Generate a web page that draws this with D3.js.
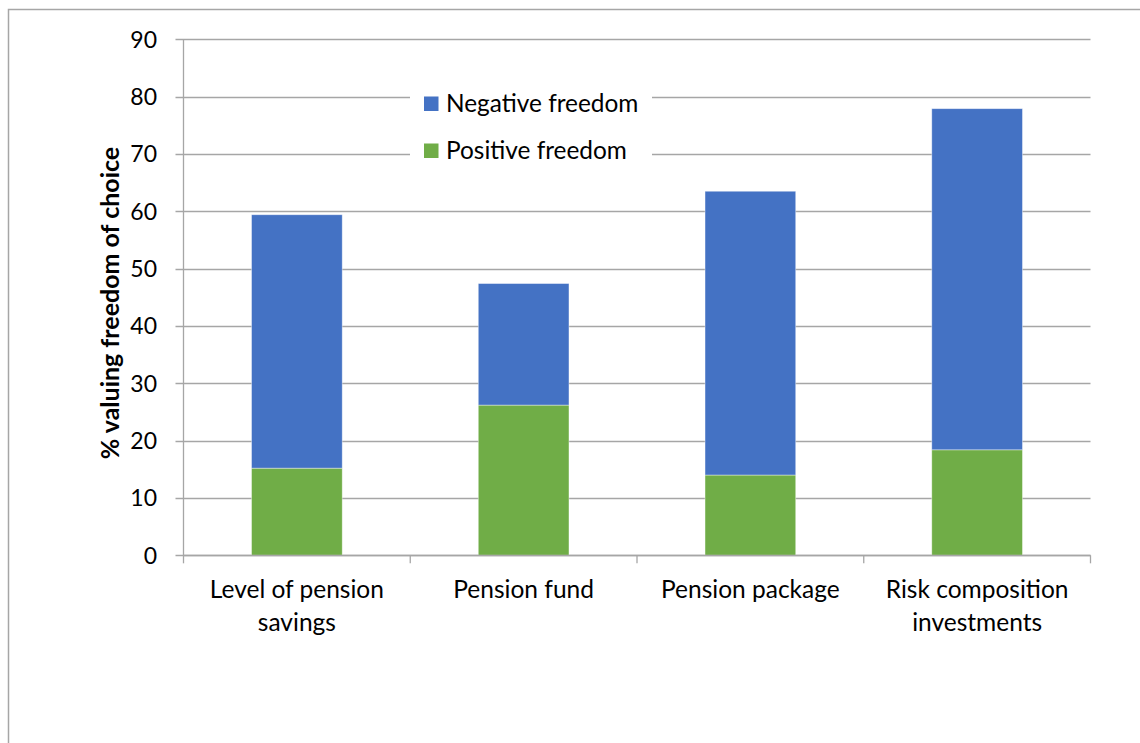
<!DOCTYPE html>
<html>
<head>
<meta charset="utf-8">
<script src="https://cdn.jsdelivr.net/npm/d3@7"></script>
<style>
  html, body { margin: 0; padding: 0; background: #fff; }
  svg { display: block; font-family: Lato, "Open Sans", sans-serif; }
</style>
</head>
<body>
<svg id="chart" width="1140" height="743"></svg>
<script>
const categories = [["Level of pension", "savings"], ["Pension fund"], ["Pension package"], ["Risk composition", "investments"]];
const categoryKeys = ["Level of pension savings", "Pension fund", "Pension package", "Risk composition investments"];
const positiveFreedom = [15.2, 26.2, 14.0, 18.4];
const negativeFreedom = [44.2, 21.2, 49.5, 59.5];
const seriesNames = ["Positive freedom", "Negative freedom"];
const seriesColors = ["#70AD47", "#4472C4"];
const yTicks = [0, 10, 20, 30, 40, 50, 60, 70, 80, 90];
const yLabel = "% valuing freedom of choice";

(function () {
const svg = d3.select("#chart");

// outer frame (extends beyond viewport on right/bottom)
svg.append("rect").attr("x", 8.5).attr("y", 9.5).attr("width", 1200).attr("height", 800)
  .attr("fill", "#fff").attr("stroke", "#a6a6a6").attr("stroke-width", 1.5);

const pL = 183.5, pR = 1090.5, pT = 39.3, pB = 555.3;
const x = d3.scaleBand().domain(categoryKeys).range([pL, pR]).paddingInner(0.6).paddingOuter(0.3);
const y = d3.scaleLinear().domain([0, 90]).range([pB, pT]);

// gridlines with outward ticks
svg.append("g").selectAll("line").data(yTicks).join("line")
  .attr("x1", pL - 8).attr("x2", pR)
  .attr("y1", d => Math.round(y(d)) + 0.5).attr("y2", d => Math.round(y(d)) + 0.5)
  .attr("stroke", "#a6a6a6").attr("stroke-width", 1.3);

// y tick labels
svg.append("g").selectAll("text").data(yTicks).join("text")
  .attr("x", 157).attr("y", d => y(d)).attr("dy", "0.36em")
  .attr("text-anchor", "end").attr("font-size", 23).attr("fill", "#000")
  .text(d => d);

// stacked bars
const rows = categoryKeys.map((c, i) => ({ cat: c, pos: positiveFreedom[i], neg: negativeFreedom[i] }));
const stack = d3.stack().keys(["pos", "neg"])(rows);
svg.append("g").selectAll("g").data(stack).join("g")
  .attr("fill", (d, i) => seriesColors[i])
  .selectAll("rect").data(d => d).join("rect")
  .attr("x", d => x(d.data.cat)).attr("width", x.bandwidth())
  .attr("y", d => y(d[1])).attr("height", d => y(d[0]) - y(d[1]))
  .attr("stroke", "#ffffff").attr("stroke-opacity", 0.5).attr("stroke-width", 0.8);

// y axis line
svg.append("line").attr("x1", pL).attr("x2", pL).attr("y1", pT).attr("y2", pB)
  .attr("stroke", "#a6a6a6").attr("stroke-width", 1.3);
// x axis line
svg.append("line").attr("x1", pL).attr("x2", pR).attr("y1", Math.round(pB) + 0.5).attr("y2", Math.round(pB) + 0.5)
  .attr("stroke", "#a6a6a6").attr("stroke-width", 1.3);
// category separator ticks
const boundaries = d3.range(categoryKeys.length + 1).map(i => pL + i * (pR - pL) / categoryKeys.length);
svg.append("g").selectAll("line").data(boundaries).join("line")
  .attr("x1", d => d).attr("x2", d => d).attr("y1", pB).attr("y2", pB + 8)
  .attr("stroke", "#a6a6a6").attr("stroke-width", 1.3);

// category labels
const catG = svg.append("g").selectAll("text").data(categories).join("text")
  .attr("x", (d, i) => x(categoryKeys[i]) + x.bandwidth() / 2)
  .attr("y", 598).attr("text-anchor", "middle").attr("font-size", 24.5).attr("fill", "#000");
catG.selectAll("tspan").data(d => d).join("tspan")
  .attr("x", function () { return d3.select(this.parentNode).attr("x"); })
  .attr("dy", (d, i) => i === 0 ? 0 : 33)
  .text(d => d);

// y axis title
svg.append("text")
  .attr("transform", `translate(119, 303) rotate(-90)`)
  .attr("text-anchor", "middle").attr("font-size", 25).attr("font-weight", "bold").attr("fill", "#000")
  .text(yLabel);

// legend
const legendItems = [{ name: seriesNames[1], color: seriesColors[1] }, { name: seriesNames[0], color: seriesColors[0] }];
const lg = svg.append("g");
lg.append("rect").attr("x", 410).attr("y", 85).attr("width", 242).attr("height", 80).attr("fill", "#fff");
const li = lg.selectAll("g").data(legendItems).join("g")
  .attr("transform", (d, i) => `translate(424, ${96.5 + i * 47})`);
li.append("rect").attr("width", 14.5).attr("height", 14.5).attr("fill", d => d.color);
li.append("text").attr("x", 22).attr("y", 7).attr("dy", "0.36em")
  .attr("font-size", 24.4).attr("fill", "#000").text(d => d.name);
})();
</script>
</body>
</html>
